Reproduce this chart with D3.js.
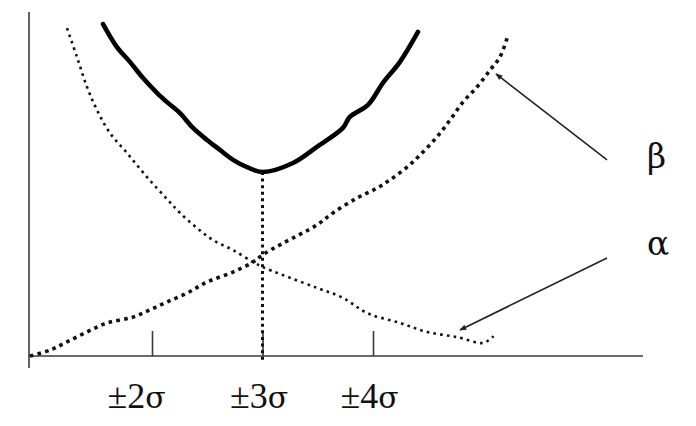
<!DOCTYPE html>
<html><head><meta charset="utf-8">
<script src="https://cdn.jsdelivr.net/npm/d3@7"></script>
</head><body style="margin:0">
<svg id="s" width="696" height="426" style="display:block"></svg>
<script>
// ---- data (x in σ units, y in relative units 0..100) ----
const tickValues = [2, 3, 4];
const tickLabels = ["±2σ", "±3σ", "±4σ"];
const tickLabelShift = [-0.14, -0.03, -0.03]; // label centre offset in σ

const totalX = [1.557,1.683,1.80,1.919,2.045,2.136,2.253,2.371,2.498,2.615,2.733,2.86,3.0,3.276,3.493,3.728,3.79,3.955,4.09,4.244,4.407];
const totalY = [96.5,89.8,85.5,80.8,76.5,73.8,70.6,66.3,62.8,59.9,57.0,54.9,53.5,56.1,60.8,66.3,69.5,73.0,79.4,85.5,94.2];

const betaX = [0.896,1.077,1.231,1.412,1.593,1.828,1.982,2.136,2.317,2.498,2.733,2.914,3.0,3.186,3.493,3.638,3.855,4.036,4.154,4.308,4.425,4.579,4.697,4.814,4.941,5.059,5.149,5.222];
const betaY = [0,1.7,4.1,7.0,9.6,11.3,13.4,15.7,18.3,21.5,24.4,27.3,29.4,32.8,38.1,41.6,45.9,48.8,51.2,54.9,58.4,63.7,68.6,73.8,78.2,83.1,86.9,93.3];

const alphaX = [1.231,1.321,1.412,1.502,1.620,1.774,1.955,2.136,2.253,2.407,2.552,2.733,2.914,3.0,3.186,3.493,3.728,3.946,4.244,4.489,4.760,5.0,5.09];
const alphaY = [95.3,86.9,78.2,71.5,64.8,59.0,52.0,45.6,41.6,37.2,33.7,30.8,27.3,25.9,23.5,19.8,16.9,12.5,9.6,7.0,5.5,3.8,5.8];

const markerX = 3;          // optimum at ±3σ
const markerY = [53.5, -1.2];

const labels = ["β", "α"];
const labelPos = [[6.48, 54.7], [6.48, 29.4]];     // text left/baseline (σ, value)
const arrowFrom = [[6.118, 57.0], [6.118, 28.5]];
const arrowTo = [[5.113, 82.0], [4.787, 7.56]];

// ---- layout ----
const LATIN = '"Liberation Serif"';
const GREEK = '"DejaVu Serif"';
const x = d3.scaleLinear().domain([2, 4]).range([152, 373]);
const y = d3.scaleLinear().domain([0, 100]).range([356, 12]);
const xMin = x.invert(29), xMax = x.invert(643);

const svg = d3.select("#s");
svg.append("rect").attr("width", 696).attr("height", 426).attr("fill", "#fff");
svg.append("defs").append("marker")
  .attr("id", "ah").attr("viewBox", "0 0 10 10").attr("refX", 9).attr("refY", 5)
  .attr("markerWidth", 8).attr("markerHeight", 7).attr("orient", "auto")
  .attr("markerUnits", "userSpaceOnUse")
  .append("path").attr("d", "M0,1 L10,5 L0,9 Z").attr("fill", "#222");

// axes
const axisCol = "#3a3a3a";
svg.append("line").attr("x1", x(xMin)).attr("x2", x(xMin)).attr("y1", y(100)).attr("y2", y(-3.5))
  .attr("stroke", axisCol).attr("stroke-width", 1.6);
svg.append("line").attr("x1", x(xMin)).attr("x2", x(xMax)).attr("y1", y(0)).attr("y2", y(0))
  .attr("stroke", axisCol).attr("stroke-width", 1.6);

const xAxis = d3.axisTop(x).tickValues(tickValues).tickSize(25).tickFormat("");
const gx = svg.append("g").attr("transform", `translate(0,${y(0)})`).call(xAxis);
gx.select(".domain").remove();
gx.selectAll(".tick line").attr("stroke", axisCol).attr("stroke-width", 1.6);

const tl = svg.selectAll("text.tl").data(tickValues).join("text").attr("class", "tl")
  .attr("x", (d, i) => x(d + tickLabelShift[i])).attr("y", 408)
  .attr("text-anchor", "middle").attr("fill", "#111");
tl.append("tspan").attr("font-size", 36).style("font-family", LATIN)
  .text((d, i) => tickLabels[i].slice(0, -1));
tl.append("tspan").attr("font-size", 30).style("font-family", GREEK)
  .text((d, i) => tickLabels[i].slice(-1));

const line = d3.line().x(d => x(d[0])).y(d => y(d[1])).curve(d3.curveCatmullRom.alpha(0.5));

// alpha (fine dots)
svg.append("path").datum(alphaX.map((v, i) => [v, alphaY[i]])).attr("d", line)
  .attr("fill", "none").attr("stroke", "#111").attr("stroke-width", 2.6)
  .attr("stroke-dasharray", "2.6,4.2");
// beta (heavy dots)
svg.append("path").datum(betaX.map((v, i) => [v, betaY[i]])).attr("d", line)
  .attr("fill", "none").attr("stroke", "#111").attr("stroke-width", 3.6)
  .attr("stroke-dasharray", "3.6,4.2");
// vertical marker
svg.append("line").attr("x1", x(markerX)).attr("x2", x(markerX))
  .attr("y1", y(markerY[0])).attr("y2", y(markerY[1]))
  .attr("stroke", "#111").attr("stroke-width", 3).attr("stroke-dasharray", "3,3.6");
// total (solid)
svg.append("path").datum(totalX.map((v, i) => [v, totalY[i]])).attr("d", line)
  .attr("fill", "none").attr("stroke", "#000").attr("stroke-width", 4.6)
  .attr("stroke-linecap", "round").attr("stroke-linejoin", "round");

// arrows
svg.append("g").selectAll("line").data(arrowFrom).join("line")
  .attr("x1", d => x(d[0])).attr("y1", d => y(d[1]))
  .attr("x2", (d, i) => x(arrowTo[i][0])).attr("y2", (d, i) => y(arrowTo[i][1]))
  .attr("stroke", "#222").attr("stroke-width", 1.6).attr("marker-end", "url(#ah)");

svg.selectAll("text.gl").data(labels).join("text").attr("class", "gl")
  .attr("x", (d, i) => x(labelPos[i][0])).attr("y", (d, i) => y(labelPos[i][1]))
  .attr("font-size", 33).attr("fill", "#111")
  .style("font-family", GREEK)
  .text(d => d);
</script>
</body></html>
